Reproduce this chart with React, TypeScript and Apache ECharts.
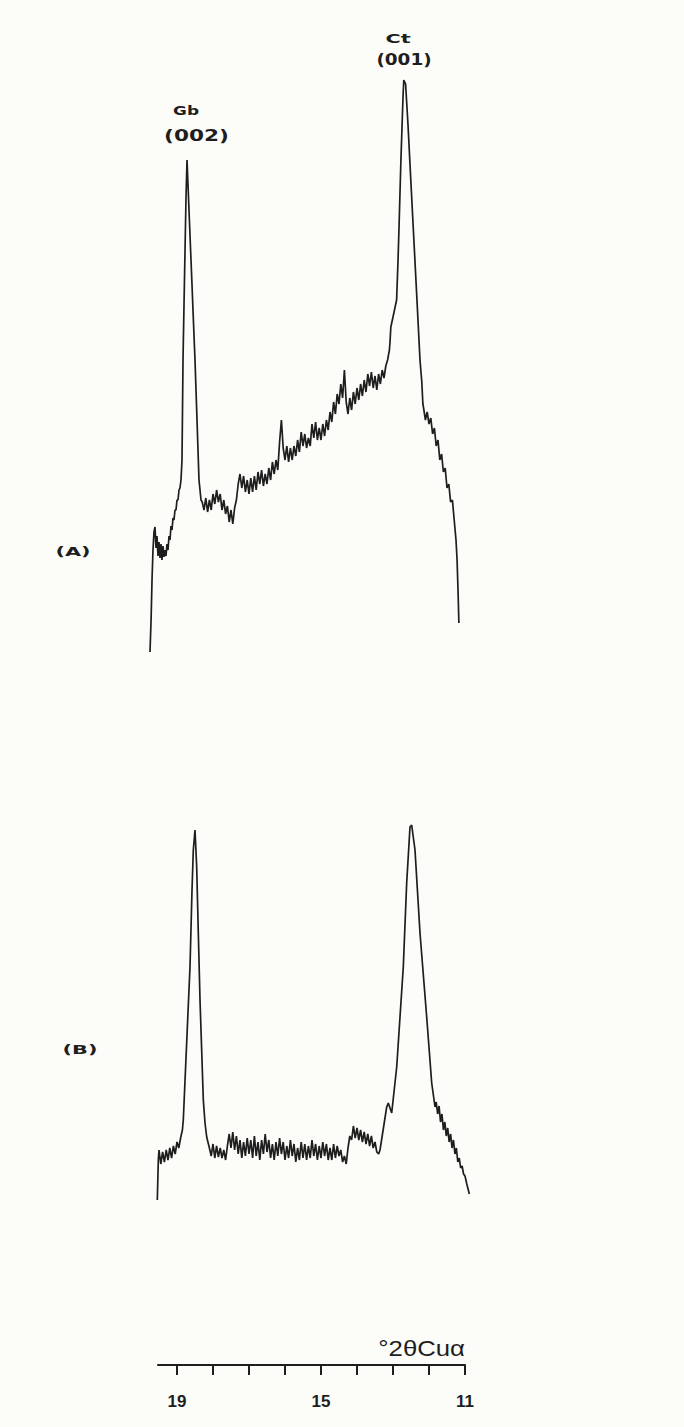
import React, { useEffect, useRef } from "react";
import * as echarts from "echarts";

// Trace (A): [°2θ, intensity (arbitrary units)]
const traceA: [number, number][] = [
  [19.75, 8], [19.72, 40], [19.694, 80], [19.667, 110], [19.639, 128], [19.611, 133],
  [19.583, 112], [19.556, 124], [19.528, 104], [19.5, 118], [19.472, 102], [19.444, 116],
  [19.417, 100], [19.389, 114], [19.361, 103], [19.333, 110], [19.306, 104], [19.278, 116],
  [19.25, 110], [19.222, 124], [19.194, 120], [19.167, 134], [19.139, 130], [19.111, 142],
  [19.083, 140], [19.056, 150], [19.028, 150], [19.0, 160], [18.972, 160], [18.944, 170],
  [18.917, 172], [18.889, 180], [18.861, 200], [18.833, 300], [18.806, 354], [18.778, 408],
  [18.75, 462], [18.722, 500], [18.694, 475], [18.639, 425], [18.583, 375], [18.528, 325],
  [18.5, 300], [18.444, 240], [18.389, 180], [18.333, 160],
  [18.30, 158], [18.25, 150], [18.20, 162], [18.15, 148], [18.10, 160], [18.05, 150],
  [18.00, 166], [17.95, 156], [17.90, 170], [17.85, 158], [17.80, 166], [17.75, 150],
  [17.70, 160], [17.65, 146], [17.60, 154], [17.55, 138], [17.50, 150], [17.45, 136],
  [17.40, 152], [17.35, 160], [17.30, 176], [17.25, 186], [17.20, 172], [17.15, 184],
  [17.10, 168], [17.05, 180], [17.00, 166], [16.95, 182], [16.90, 168], [16.85, 184],
  [16.80, 170], [16.75, 188], [16.70, 176], [16.65, 190], [16.60, 174], [16.55, 186],
  [16.50, 176], [16.45, 192], [16.40, 180], [16.35, 198], [16.30, 186], [16.25, 200],
  [16.20, 190], [16.15, 218], [16.10, 240], [16.05, 212], [16.00, 200], [15.95, 214],
  [15.90, 198], [15.85, 212], [15.80, 200], [15.75, 214], [15.70, 204], [15.65, 220],
  [15.60, 208], [15.55, 228], [15.50, 214], [15.45, 226], [15.40, 212], [15.35, 222],
  [15.30, 214], [15.25, 236], [15.20, 222], [15.15, 238], [15.10, 220], [15.05, 232],
  [15.00, 220], [14.95, 236], [14.90, 224], [14.85, 240], [14.80, 230], [14.75, 248],
  [14.70, 238], [14.65, 258], [14.60, 246], [14.55, 266], [14.50, 256], [14.45, 276],
  [14.40, 262], [14.35, 290], [14.30, 258], [14.25, 246], [14.20, 262], [14.15, 250],
  [14.10, 268], [14.05, 256], [14.00, 272], [13.95, 260], [13.90, 276], [13.85, 264],
  [13.80, 280], [13.75, 268], [13.70, 286], [13.65, 274], [13.60, 288], [13.55, 272],
  [13.50, 284], [13.45, 270], [13.40, 286], [13.35, 276], [13.30, 290], [13.25, 282],
  [13.20, 294], [13.15, 300], [13.10, 310],
  [13.083, 318], [13.06, 333], [13.0, 343], [12.9, 360], [12.86, 400], [12.83, 436],
  [12.78, 500], [12.72, 565], [12.70, 580], [12.65, 576], [12.583, 535], [12.5, 476],
  [12.417, 418], [12.333, 359], [12.25, 300], [12.2, 278], [12.17, 256],
  [12.15, 252], [12.10, 240], [12.05, 248], [12.00, 236], [11.95, 242], [11.90, 226],
  [11.85, 232], [11.80, 214], [11.75, 220], [11.70, 200], [11.65, 206], [11.60, 188],
  [11.55, 192], [11.50, 172], [11.45, 176], [11.40, 158], [11.35, 160], [11.30, 140],
  [11.25, 120], [11.22, 100], [11.19, 65], [11.17, 37],
];

// Trace (B): [°2θ, intensity (arbitrary units)]
const traceB: [number, number][] = [
  [19.547, 20], [19.519, 60], [19.50, 70], [19.45, 56], [19.40, 68], [19.35, 58],
  [19.30, 70], [19.25, 60], [19.20, 72], [19.15, 62], [19.10, 74], [19.05, 66],
  [19.00, 78], [18.95, 72], [18.90, 82], [18.85, 90], [18.825, 100], [18.75, 162],
  [18.694, 208], [18.639, 253], [18.583, 330], [18.547, 370], [18.5, 390], [18.453, 353],
  [18.408, 287], [18.361, 220], [18.315, 170], [18.269, 120], [18.222, 97], [18.175, 83],
  [18.10, 72], [18.05, 64], [18.00, 76], [17.95, 62], [17.90, 74], [17.85, 63],
  [17.80, 72], [17.75, 62], [17.70, 70], [17.65, 60], [17.60, 74], [17.55, 86],
  [17.50, 72], [17.45, 88], [17.40, 70], [17.35, 84], [17.30, 66], [17.25, 80],
  [17.20, 62], [17.15, 78], [17.10, 64], [17.05, 82], [17.00, 66], [16.95, 80],
  [16.90, 62], [16.85, 84], [16.80, 64], [16.75, 78], [16.70, 60], [16.65, 80],
  [16.60, 66], [16.55, 86], [16.50, 68], [16.45, 80], [16.40, 62], [16.35, 76],
  [16.30, 60], [16.25, 78], [16.20, 64], [16.15, 82], [16.10, 66], [16.05, 78],
  [16.00, 60], [15.95, 74], [15.90, 62], [15.85, 80], [15.80, 64], [15.75, 76],
  [15.70, 58], [15.65, 72], [15.60, 60], [15.55, 78], [15.50, 62], [15.45, 76],
  [15.40, 60], [15.35, 74], [15.30, 62], [15.25, 80], [15.20, 64], [15.15, 76],
  [15.10, 60], [15.05, 74], [15.00, 62], [14.95, 78], [14.90, 64], [14.85, 76],
  [14.80, 60], [14.75, 72], [14.70, 60], [14.65, 76], [14.60, 62], [14.55, 74],
  [14.50, 64], [14.45, 70], [14.40, 58], [14.35, 64], [14.30, 56], [14.25, 72],
  [14.20, 84], [14.15, 80], [14.10, 94], [14.05, 82], [14.00, 92], [13.95, 80],
  [13.90, 90], [13.85, 78], [13.80, 88], [13.75, 76], [13.70, 86], [13.65, 74],
  [13.60, 84], [13.55, 72], [13.50, 78], [13.45, 68], [13.40, 66],
  [13.361, 70], [13.175, 113], [13.131, 117], [13.036, 107], [12.897, 153], [12.714, 253],
  [12.62, 337], [12.528, 393], [12.481, 395], [12.389, 370], [12.25, 287], [12.064, 203],
  [11.925, 137], [11.833, 113],
  [11.80, 118], [11.76, 106], [11.72, 114], [11.68, 98], [11.64, 106], [11.60, 90],
  [11.56, 98], [11.52, 84], [11.48, 92], [11.44, 78], [11.40, 86], [11.36, 72],
  [11.32, 80], [11.28, 66], [11.24, 72], [11.20, 58], [11.16, 62], [11.12, 52],
  [11.08, 54], [11.04, 46], [11.00, 44], [10.95, 36], [10.88, 26],
];

const tickValues = [11, 12, 13, 14, 15, 16, 17, 18, 19];
const labelValues = [19, 15, 11];
const axisTitle = "°2θCuα";
const peakGb = ["Gb", "(002)"];
const peakCt = ["Ct", "(001)"];
const traceNames = ["(A)", "(B)"];

const INK = "#1e1e1e";

export default function App() {
  const ref = useRef<HTMLDivElement>(null);

  useEffect(() => {
    if (!ref.current) return;
    const chart = echarts.init(ref.current, null, { renderer: "svg" });
    const hiddenX = { type: "value", min: 10.8, max: 19.75, inverse: true, show: false };
    const lbl = (text: string, x: number, y: number, size: number, sx: number, weight = "bold", family = '"DejaVu Sans"', align = "center") => ({
      type: "text",
      x,
      y,
      scaleX: sx,
      silent: true,
      style: {
        text,
        fill: INK,
        font: `${weight} ${size}px ${family}`,
        textAlign: align,
        align,
        textVerticalAlign: "middle",
        verticalAlign: "middle",
      },
    });
    chart.setOption({
      animation: false,
      backgroundColor: "#fcfcf9",
      grid: [
        { left: 150, width: 322.2, top: 60, height: 600 },
        { left: 150, width: 322.2, top: 820, height: 400 },
        { left: 158, width: 307, top: 1300, height: 65 },
      ],
      xAxis: [
        { ...hiddenX, gridIndex: 0 },
        { ...hiddenX, gridIndex: 1 },
        {
          gridIndex: 2,
          type: "value",
          min: 11,
          max: 19.528,
          inverse: true,
          position: "bottom",
          axisLine: { show: true, onZero: false, lineStyle: { color: INK, width: 2 } },
          axisTick: { show: true, customValues: tickValues, length: 10, lineStyle: { color: INK, width: 2 } },
          axisLabel: {
            show: true,
            customValues: labelValues,
            margin: 28,
            fontFamily: '"Liberation Sans"',
            fontWeight: "bold",
            fontSize: 17,
            color: INK,
          },
          splitLine: { show: false },
        },
      ],
      yAxis: [
        { gridIndex: 0, type: "value", min: 0, max: 600, show: false },
        { gridIndex: 1, type: "value", min: 0, max: 400, show: false },
        { gridIndex: 2, type: "value", min: 0, max: 1, show: false },
      ],
      series: [
        {
          type: "line",
          xAxisIndex: 0,
          yAxisIndex: 0,
          data: traceA,
          symbol: "none",
          silent: true,
          lineStyle: { color: INK, width: 1.7 },
        },
        {
          type: "line",
          xAxisIndex: 1,
          yAxisIndex: 1,
          data: traceB,
          symbol: "none",
          silent: true,
          lineStyle: { color: INK, width: 1.7 },
        },
      ],
      graphic: [
        lbl(peakGb[0], 186, 111, 13, 1.3),
        lbl(peakGb[1], 196.5, 135, 16, 1.35),
        lbl(peakCt[0], 398, 38.5, 13, 1.6),
        lbl(peakCt[1], 404, 59, 16, 1.15),
        lbl(traceNames[0], 73, 552, 13, 1.6),
        lbl(traceNames[1], 80, 1050, 13, 1.6),
        lbl(axisTitle, 465, 1348, 22, 1.17, "normal", '"Liberation Sans"', "right"),
      ],
    });
    return () => chart.dispose();
  }, []);

  return (
    <div
      ref={ref}
      style={{ position: "absolute", left: 0, top: 0, width: 684, height: 1427, background: "#fcfcf9" }}
    />
  );
}
